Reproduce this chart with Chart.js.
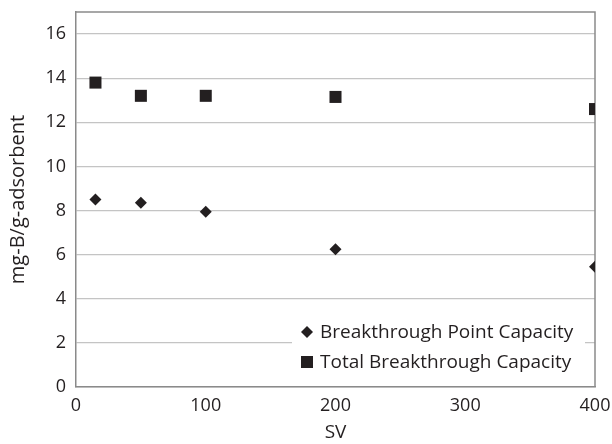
<!DOCTYPE html>
<html>
<head>
<meta charset="utf-8">
<script src="https://cdn.jsdelivr.net/npm/chart.js@4/dist/chart.umd.min.js"></script>
<style>
  html, body { margin: 0; padding: 0; background: #fff; }
  #wrap { width: 612px; height: 444px; }
</style>
</head>
<body>
<div id="wrap"><canvas id="grafica"></canvas></div>
<script>
// --- datos ---
const svValores = [15, 50, 100, 200, 400];
const capacidadPunto = [8.5, 8.35, 7.95, 6.25, 5.45];
const capacidadTotal = [13.8, 13.2, 13.2, 13.15, 12.6];
const nombresSeries = ['Breakthrough Point Capacity', 'Total Breakthrough Capacity'];
const ticksY = [0, 2, 4, 6, 8, 10, 12, 14, 16];
const ticksX = [0, 100, 200, 300, 400];

const colorTexto = '#231f20';
const colorMarca = '#231f20';
const colorEje = '#8a8a8a';
const colorGrid = '#c4c4c4';
const fuente = '"Open Sans", sans-serif';

// leyenda dentro del área del gráfico, abajo a la derecha
const leyendaInterna = {
  id: 'leyendaInterna',
  afterDraw(chart) {
    const ctx = chart.ctx;
    const area = chart.chartArea;
    const x0 = 292, x1 = 585;
    const y0 = 316, y1 = area.bottom - 2;
    ctx.save();
    ctx.fillStyle = '#fff';
    ctx.fillRect(x0, y0, x1 - x0, y1 - y0);
    ctx.font = '19px ' + fuente;
    ctx.textBaseline = 'middle';
    chart.data.datasets.forEach((ds, i) => {
      const y = 332 + i * 30;
      ctx.fillStyle = colorMarca;
      ctx.strokeStyle = colorMarca;
      Chart.helpers.drawPoint(ctx, {
        pointStyle: ds.pointStyle,
        radius: ds.pointStyle === 'rect' ? 8.5 : 6,
        rotation: 0,
        borderWidth: 0
      }, 307, y);
      ctx.fillStyle = colorTexto;
      ctx.fillText(ds.label, 320, y + 1);
    });
    ctx.restore();
  }
};

// marco superior y derecho
const marco = {
  id: 'marco',
  beforeDatasetsDraw(chart) {
    const a = chart.chartArea;
    const ctx = chart.ctx;
    ctx.save();
    ctx.strokeStyle = colorEje;
    ctx.lineWidth = 1.5;
    ctx.beginPath();
    ctx.moveTo(a.left, a.top);
    ctx.lineTo(a.right, a.top);
    ctx.lineTo(a.right, a.bottom);
    ctx.stroke();
    ctx.restore();
  }
};

const ctx = document.getElementById('grafica').getContext('2d');
new Chart(ctx, {
  type: 'scatter',
  data: {
    datasets: [
      {
        label: nombresSeries[0],
        data: svValores.map((x, i) => ({ x: x, y: capacidadPunto[i] })),
        pointStyle: 'rectRot',
        pointRadius: 6,
        backgroundColor: colorMarca,
        borderColor: colorMarca,
        borderWidth: 0
      },
      {
        label: nombresSeries[1],
        data: svValores.map((x, i) => ({ x: x, y: capacidadTotal[i] })),
        pointStyle: 'rect',
        pointRadius: 8.5,
        backgroundColor: colorMarca,
        borderColor: colorMarca,
        borderWidth: 0
      }
    ]
  },
  options: {
    responsive: true,
    maintainAspectRatio: false,
    animation: false,
    layout: { padding: { top: 12, right: 17, left: 0, bottom: 0 } },
    plugins: {
      legend: { display: false },
      tooltip: { enabled: false }
    },
    scales: {
      x: {
        type: 'linear',
        min: 0,
        max: 400,
        afterBuildTicks: s => { s.ticks = ticksX.map(v => ({ value: v })); },
        afterFit: s => { s.height = 57; s.paddingLeft = 0; s.paddingRight = 0; },
        grid: { display: false, drawTicks: false },
        border: { color: colorEje, width: 1.5 },
        ticks: { color: colorTexto, font: { size: 18, family: fuente }, padding: 8, maxRotation: 0 },
        title: { display: true, text: 'SV', color: colorTexto, font: { size: 19, family: fuente }, padding: { top: 0, bottom: 0 } }
      },
      y: {
        min: 0,
        max: 17,
        afterBuildTicks: s => { s.ticks = ticksY.map(v => ({ value: v })); },
        afterFit: s => { s.width = 76; s.paddingTop = 0; s.paddingBottom = 0; },
        grid: { color: colorGrid, lineWidth: 1.3, drawTicks: false },
        border: { color: colorEje, width: 1.5 },
        ticks: { color: colorTexto, font: { size: 18, family: fuente }, padding: 10 },
        title: { display: true, text: 'mg-B/g-adsorbent', color: colorTexto, font: { size: 20, family: fuente }, padding: { top: 6, bottom: 0 } }
      }
    }
  },
  plugins: [marco, leyendaInterna]
});
</script>
</body>
</html>
